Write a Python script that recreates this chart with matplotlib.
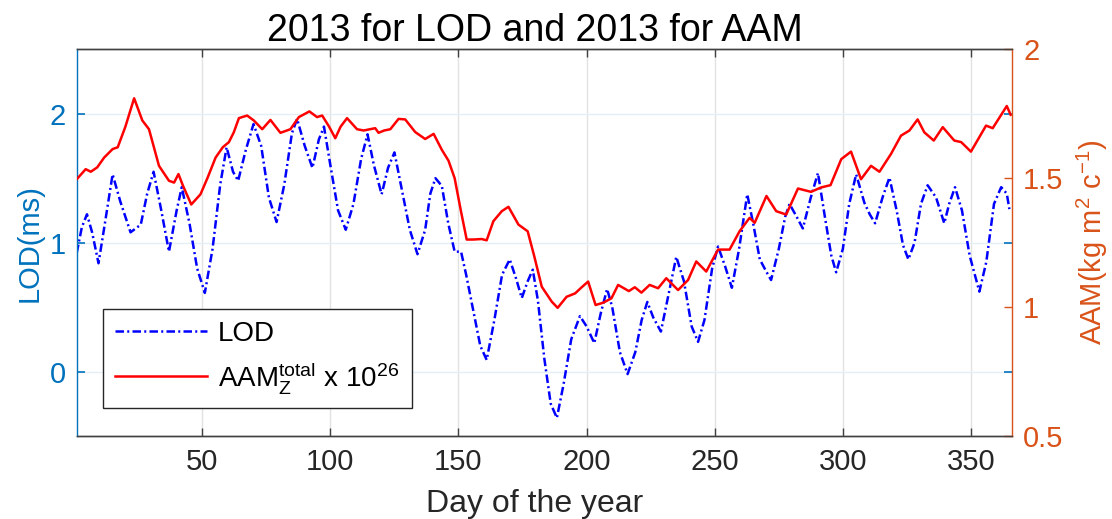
import matplotlib
matplotlib.use("Agg")
import matplotlib.pyplot as plt

plt.rcParams['font.family'] = ['Liberation Sans', 'DejaVu Sans']
plt.rcParams['mathtext.fontset'] = 'custom'
plt.rcParams['mathtext.rm'] = 'Liberation Sans'
plt.rcParams['mathtext.it'] = 'Liberation Sans'
plt.rcParams['mathtext.bf'] = 'Liberation Sans:bold'

# ---- data ----
lod_day = [1, 3, 5, 7, 9.5, 12, 15, 18, 22, 26, 28.5, 31, 34, 37, 40, 42, 45, 48, 51, 54,
           57, 59.5, 62, 64, 67, 70, 73, 76, 79, 82, 85, 87, 90, 93, 95.5, 97.5, 100, 103, 106, 109,
           112, 114.5, 117, 120, 122.5, 125, 128, 131, 134, 137, 139, 141, 143.5, 146, 148.5, 151, 153, 156, 158.5, 161,
           164, 167, 170, 172.5, 174.7, 177, 179, 181, 183.5, 186, 188.4, 191, 194, 197.4, 200, 203, 205.5, 208, 210, 213,
           216, 219, 221.5, 223.7, 226, 229, 232, 235, 238, 241, 243.5, 246, 249, 251.3, 254, 256.7, 259.5, 262.7, 265, 267.6,
           270, 272, 275, 277.5, 279.2, 282, 284.4, 287.5, 290.3, 293, 295.5, 297.4, 300, 302.5, 305.2, 308.4, 310.5, 312.6, 315.5, 318.2,
           321, 323.5, 325.6, 328, 330.5, 333.1, 336.4, 339.6, 341.5, 343.8, 346.5, 349.5, 353.3, 356, 359, 361.8, 364, 365]
lod_val = [0.92, 1.12, 1.22, 1.08, 0.84, 1.15, 1.53, 1.32, 1.08, 1.14, 1.38, 1.55, 1.25, 0.93, 1.25, 1.43, 1.15, 0.80, 0.61, 0.95,
           1.45, 1.74, 1.55, 1.48, 1.72, 1.92, 1.75, 1.35, 1.16, 1.45, 1.85, 1.96, 1.75, 1.58, 1.80, 1.90, 1.60, 1.25, 1.10, 1.30,
           1.65, 1.84, 1.60, 1.375, 1.58, 1.70, 1.40, 1.10, 0.91, 1.10, 1.38, 1.50, 1.44, 1.15, 0.93, 0.93, 0.75, 0.45, 0.20, 0.09,
           0.40, 0.75, 0.87, 0.72, 0.57, 0.70, 0.79, 0.55, 0.10, -0.25, -0.36, -0.10, 0.25, 0.43, 0.35, 0.22, 0.45, 0.64, 0.50, 0.15,
           -0.02, 0.15, 0.40, 0.54, 0.42, 0.31, 0.60, 0.89, 0.70, 0.35, 0.23, 0.40, 0.80, 0.97, 0.82, 0.65, 0.95, 1.375, 1.15, 0.87,
           0.78, 0.71, 0.95, 1.20, 1.30, 1.20, 1.11, 1.35, 1.54, 1.20, 0.90, 0.77, 0.95, 1.30, 1.53, 1.31, 1.22, 1.15, 1.35, 1.505,
           1.25, 0.98, 0.87, 1.00, 1.30, 1.445, 1.35, 1.15, 1.30, 1.43, 1.25, 0.90, 0.62, 0.85, 1.30, 1.43, 1.38, 1.26]

aam_day = [1, 4.5, 6.5, 9, 11.7, 15, 17, 20, 23.4, 26.6, 29.2, 33.1, 37, 39, 40.7, 42.5, 45.7, 49.3, 52, 55.2,
           58, 60.4, 62.3, 64.3, 67.5, 70.1, 73.4, 76.6, 80.5, 84.4, 87.7, 91.8, 94.8, 96.8, 99.5, 101.9, 104, 106.5, 110.4, 113,
           117.5, 118.8, 121, 123.4, 126.6, 129.2, 133.1, 137, 140.3, 143.5, 146.1, 148.5, 151, 153.2, 155.8, 159, 161, 163.6, 166.9, 169.5,
           173.4, 177, 179.5, 182.5, 186.4, 188.7, 192.2, 195.5, 198.1, 200.6, 203.5, 206.5, 209.7, 212.3, 216.5, 218.8, 221.4, 224.6, 227.9, 231.1,
           235.7, 239.6, 242.8, 246.7, 251.3, 255.8, 259.7, 263.6, 265.6, 270.2, 274, 277.9, 282.5, 287.6, 291.5, 295.2, 299.4, 303.2, 307.1, 311,
           314.3, 318.8, 322.7, 326, 329.2, 331.8, 335.5, 339, 343.5, 346.2, 350, 355.9, 358.5, 364, 365.5]
aam_val = [1.496, 1.535, 1.525, 1.542, 1.58, 1.613, 1.62, 1.70, 1.81, 1.724, 1.69, 1.548, 1.49, 1.483, 1.516, 1.47, 1.398, 1.4375, 1.50, 1.58,
           1.62, 1.64, 1.678, 1.733, 1.743, 1.724, 1.69, 1.726, 1.676, 1.69, 1.737, 1.759, 1.737, 1.743, 1.70, 1.655, 1.70, 1.733, 1.69, 1.685,
           1.694, 1.676, 1.685, 1.69, 1.73, 1.728, 1.679, 1.652, 1.672, 1.61, 1.568, 1.50, 1.37, 1.262, 1.262, 1.264, 1.259, 1.333, 1.372, 1.389,
           1.32, 1.294, 1.20, 1.079, 1.021, 0.997, 1.04, 1.053, 1.077, 1.099, 1.008, 1.017, 1.034, 1.086, 1.062, 1.077, 1.056, 1.086, 1.073, 1.112,
           1.066, 1.105, 1.177, 1.138, 1.223, 1.223, 1.294, 1.346, 1.327, 1.431, 1.372, 1.359, 1.46, 1.447, 1.464, 1.473, 1.574, 1.603, 1.496, 1.548,
           1.525, 1.594, 1.665, 1.685, 1.728, 1.678, 1.646, 1.698, 1.646, 1.64, 1.603, 1.704, 1.694, 1.78, 1.746]

x_ticks = [50, 100, 150, 200, 250, 300, 350]
lod_ticks = [0, 1, 2]
aam_ticks = [0.5, 1, 1.5, 2]

BLUE_AX = '#0072BD'
ORANGE_AX = '#D95319'
DARK = '#404040'

fig = plt.figure(figsize=(11.12, 5.19), dpi=100)
ax1 = fig.add_axes([0.069, 0.160, 0.841, 0.745])
ax2 = ax1.twinx()

ax1.plot(lod_day, lod_val, color='#0000FF', lw=1.8, linestyle=(0, (3.4, 1.3, 0.8, 1.3)), label='LOD')
ax2.plot(aam_day, aam_val, color='#FF0000', lw=1.8, label=r'AAM$_\mathrm{Z}^\mathrm{total}$ x 10$^{26}$')

ax1.set_xlim(1, 366)
ax1.set_ylim(-0.5, 2.5)
ax2.set_ylim(0.5, 2.0)
ax1.set_xticks(x_ticks)
ax1.set_yticks(lod_ticks)
ax2.set_yticks(aam_ticks)
ax2.set_yticklabels(['0.5', '1', '1.5', '2'])

# grid
for xv in x_ticks:
    ax1.axvline(xv, color='#E2E2E2', lw=1.0, zorder=0)
for yv in lod_ticks:
    ax1.axhline(yv, color='#E3EEF7', lw=1.0, zorder=0)

# spines
ax1.spines['left'].set_color(BLUE_AX)
ax2.spines['left'].set_visible(False)
ax1.spines['right'].set_visible(False)
ax2.spines['right'].set_color(ORANGE_AX)
for a in (ax1, ax2):
    a.spines['top'].set_color(DARK)
    a.spines['bottom'].set_color(DARK)
    for s in a.spines.values():
        s.set_linewidth(1.0)

ax1.tick_params(axis='x', direction='in', length=6, width=1, color=DARK, top=True,
                labelsize=21, labelcolor='#262626', pad=9)
ax1.tick_params(axis='y', direction='in', length=6, width=1.2, color=BLUE_AX, right=True,
                labelsize=21, labelcolor=BLUE_AX, pad=8)
ax2.tick_params(axis='y', direction='in', length=6, width=1, color=ORANGE_AX,
                labelsize=21, labelcolor=ORANGE_AX, pad=8)
ax2.tick_params(axis='x', top=False, bottom=False)

ax1.set_xlabel('Day of the year', fontsize=23, color='#262626', labelpad=9)
ax1.xaxis.label.set_x(0.49)
ax1.set_ylabel('LOD(ms)', fontsize=21, color=BLUE_AX, labelpad=4)
ax2.set_ylabel(r'AAM(kg m$^2$ c$^{-1}$)', fontsize=21, color=ORANGE_AX, labelpad=8)
ttl = ax1.set_title('2013 for LOD and 2013 for AAM', fontsize=27, color='black', pad=6)
ttl.set_x(0.49)

h1, l1 = ax1.get_legend_handles_labels()
h2, l2 = ax2.get_legend_handles_labels()
leg = ax2.legend(h1 + h2, l1 + l2, loc='lower left', bbox_to_anchor=(0.028, 0.072),
                 fontsize=20, frameon=True, fancybox=False, framealpha=1,
                 edgecolor='#262626', handlelength=3.3, handletextpad=0.4,
                 labelspacing=0.45, borderpad=0.45, borderaxespad=0)
leg.get_frame().set_linewidth(1.0)
leg.set_zorder(10)

fig.savefig('out.png', dpi=100)
